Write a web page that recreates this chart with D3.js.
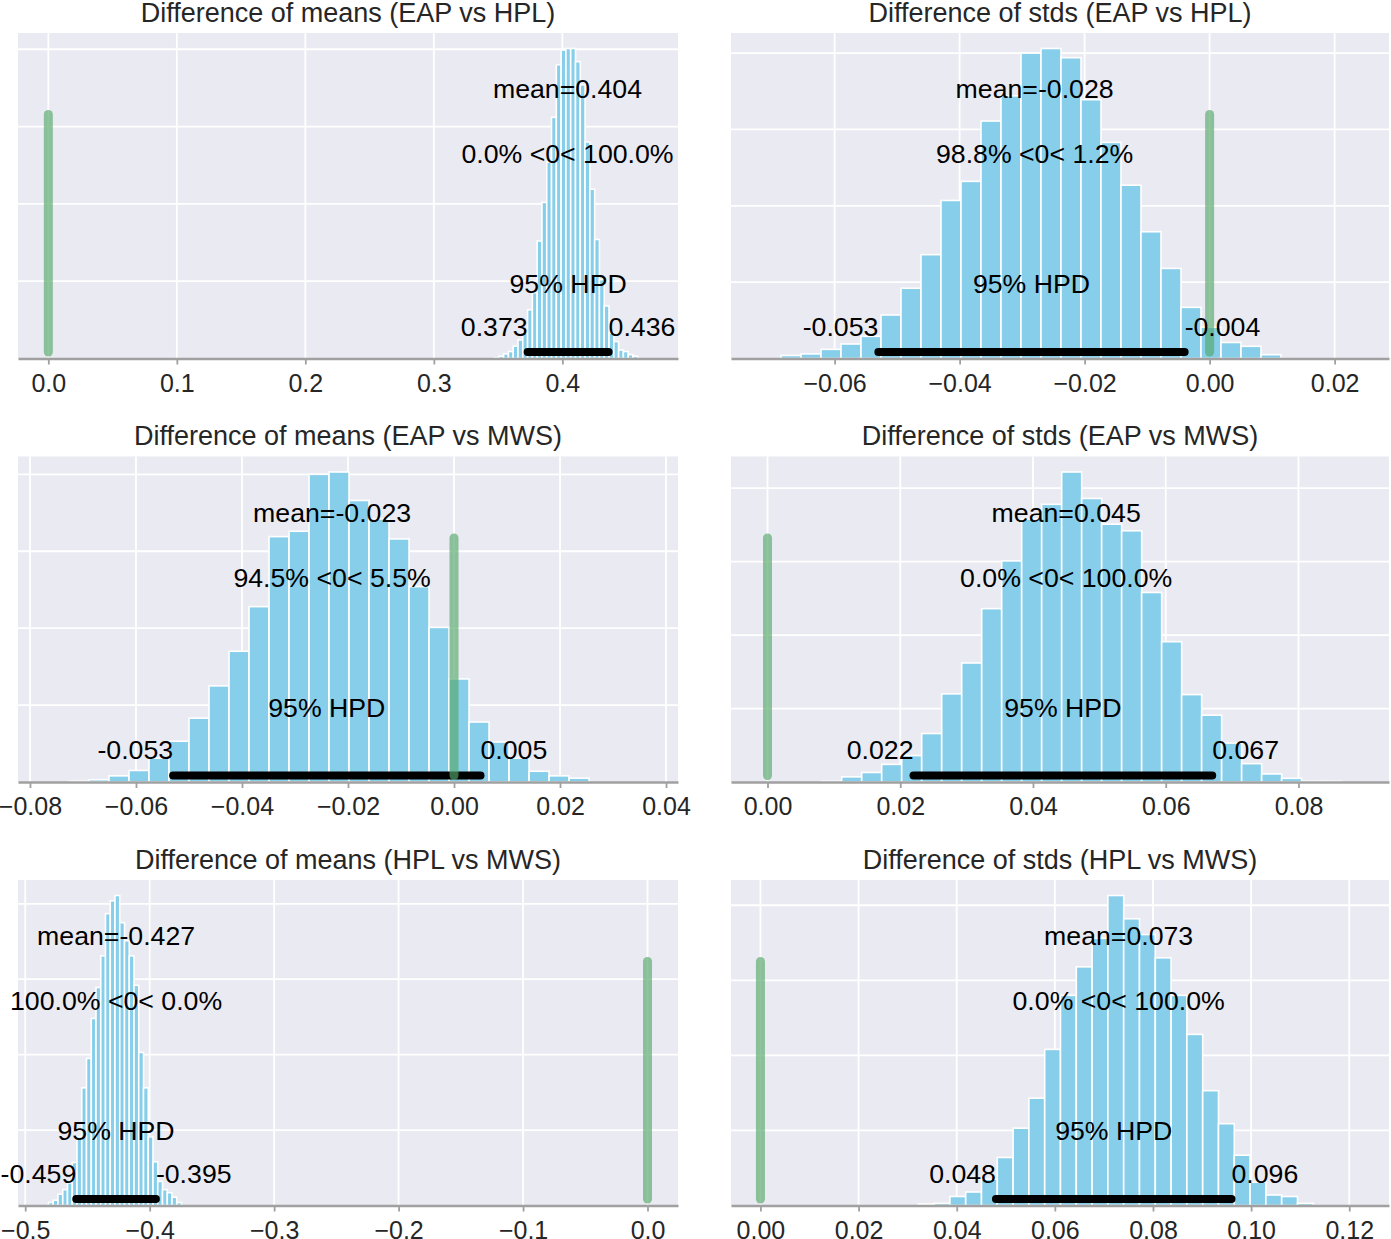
<!DOCTYPE html>
<html><head><meta charset="utf-8">
<script src="https://cdn.jsdelivr.net/npm/d3@7"></script>
<style>
body{margin:0;background:#fff}
svg text{font-family:"Liberation Sans",Arial,Helvetica,sans-serif}
</style>
</head><body>
<svg id="chart" width="1391" height="1239"></svg>
<script>
// ---------------- data ----------------
const titles = [
  "Difference of means (EAP vs HPL)", "Difference of stds (EAP vs HPL)",
  "Difference of means (EAP vs MWS)", "Difference of stds (EAP vs MWS)",
  "Difference of means (HPL vs MWS)", "Difference of stds (HPL vs MWS)"
];
const means = [0.404, -0.028, -0.023, 0.045, -0.427, 0.073];
const meanLabels = ["mean=0.404", "mean=-0.028", "mean=-0.023", "mean=0.045", "mean=-0.427", "mean=0.073"];
const refVal = 0;
const refLabels = ["0.0% <0< 100.0%", "98.8% <0< 1.2%", "94.5% <0< 5.5%", "0.0% <0< 100.0%", "100.0% <0< 0.0%", "0.0% <0< 100.0%"];
const hpdLow = [0.373, -0.053, -0.053, 0.022, -0.459, 0.048];
const hpdHigh = [0.436, -0.004, 0.005, 0.067, -0.395, 0.096];
const hpdLowLabels = ["0.373", "-0.053", "-0.053", "0.022", "-0.459", "0.048"];
const hpdHighLabels = ["0.436", "-0.004", "0.005", "0.067", "-0.395", "0.096"];

// histogram bins: first edge, bin width, counts
const binStart = [0.34685, -0.06858, -0.07264, 0.008166, -0.4813, 0.03217];
const binWidth = [0.003728, 0.0032, 0.003774, 0.003013, 0.003817, 0.00322];
const counts1 = [1,3,6,9,16,24,33,63,85,152,202,254,312,380,399,401,401,384,354,280,219,154,102,68,33,22,11,9,5,3];
const counts2 = [4,6,12,19,29,57,92,136,207,232,311,344,400,406,394,339,283,227,166,118,67,41,21,16,5];
const counts3 = [1,3,8,15,31,53,83,125,170,228,319,326,400,403,366,342,316,254,201,134,78,52,31,14,8,5];
const counts4 = [1,7,13,24,36,66,120,162,236,301,358,378,422,386,351,342,258,191,119,91,53,25,11,5,1,1];
const counts5 = [4,7,15,21,30,57,91,156,195,248,289,331,387,404,411,375,351,331,292,203,156,91,58,32,21,17,11,4];
const counts6 = [2,3,12,18,35,64,103,143,208,280,318,356,413,382,361,330,280,228,153,109,67,31,14,12,3];
const allCounts = [counts1, counts2, counts3, counts4, counts5, counts6];

// x axis limits and ticks
const xDomains = [[-0.0236, 0.4900], [-0.07658, 0.0287], [-0.08226, 0.04226], [-0.0055, 0.09364], [-0.5058, 0.0245], [-0.006, 0.1281]];
const xTicks = [
  [0, 0.1, 0.2, 0.3, 0.4],
  [-0.06, -0.04, -0.02, 0, 0.02],
  [-0.08, -0.06, -0.04, -0.02, 0, 0.02, 0.04],
  [0, 0.02, 0.04, 0.06, 0.08],
  [-0.5, -0.4, -0.3, -0.2, -0.1, 0],
  [0, 0.02, 0.04, 0.06, 0.08, 0.10, 0.12]
];
const tickFormats = [".1f", ".2f", ".2f", ".2f", ".1f", ".2f"];

// ---------------- layout ----------------
const colX = [[18, 678], [731, 1389]];
const rowTop = [33, 456.5, 880];
const axH = 325.5;

const svg = d3.select("#chart");

for (let p = 0; p < 6; p++) {
  const col = p % 2, row = Math.floor(p / 2);
  const [x0, x1] = colX[col];
  const top = rowTop[row], bottom = top + axH;
  const counts = allCounts[p];
  const x = d3.scaleLinear().domain(xDomains[p]).range([x0, x1]);
  const yMax = d3.max(counts) * 1.05;
  const y = d3.scaleLinear().domain([0, yMax]).range([bottom, top]);
  const yf = f => y(f * yMax);

  const g = svg.append("g");
  g.append("rect").attr("x", x0).attr("y", top).attr("width", x1 - x0).attr("height", axH).attr("fill", "#EAEAF2");

  // grid
  g.selectAll(".vg").data(xTicks[p]).join("line")
    .attr("x1", d => x(d)).attr("x2", d => x(d)).attr("y1", top).attr("y2", bottom)
    .attr("stroke", "#fff").attr("stroke-width", 1.8);
  g.selectAll(".hg").data(d3.range(100, yMax, 100)).join("line")
    .attr("x1", x0).attr("x2", x1).attr("y1", d => y(d)).attr("y2", d => y(d))
    .attr("stroke", "#fff").attr("stroke-width", 1.8);

  // histogram
  const bins = counts.map((c, i) => ({a: binStart[p] + i * binWidth[p], b: binStart[p] + (i + 1) * binWidth[p], c}));
  g.selectAll(".bar").data(bins).join("rect")
    .attr("x", d => x(d.a)).attr("width", d => x(d.b) - x(d.a))
    .attr("y", d => y(d.c)).attr("height", d => y(0) - y(d.c))
    .attr("fill", "#87CEEB").attr("stroke", "#fff").attr("stroke-width", 1.6);

  // x axis
  const ax = g.append("g").attr("transform", `translate(0,${bottom})`)
    .call(d3.axisBottom(x).tickValues(xTicks[p]).tickFormat(d3.format(tickFormats[p])).tickSize(6).tickSizeOuter(0).tickPadding(9.5));
  ax.select(".domain").attr("stroke", "#A0A0A0").attr("stroke-width", 2.4);
  ax.selectAll(".tick line").attr("stroke", "#A0A0A0").attr("stroke-width", 1.8);
  ax.selectAll(".tick text").attr("font-size", 25).attr("fill", "#262626")
    .attr("font-family", '"Liberation Sans",Arial,sans-serif');

  // HPD line
  g.append("line").attr("x1", x(hpdLow[p])).attr("x2", x(hpdHigh[p]))
    .attr("y1", yf(0.02)).attr("y2", yf(0.02))
    .attr("stroke", "#000").attr("stroke-width", 8).attr("stroke-linecap", "round");

  // reference line
  g.append("line").attr("x1", x(refVal)).attr("x2", x(refVal))
    .attr("y1", yf(0.02)).attr("y2", yf(0.75))
    .attr("stroke", "#55A868").attr("stroke-opacity", 0.65).attr("stroke-width", 9).attr("stroke-linecap", "round");

  const txt = (xv, f, s, anchor) => g.append("text").attr("x", x(xv)).attr("y", yf(f))
    .attr("text-anchor", anchor).attr("font-size", 26.7).attr("fill", "#000").text(s);
  txt(means[p], 0.8, meanLabels[p], "middle");
  txt(means[p], 0.6, refLabels[p], "middle");
  txt((hpdLow[p] + hpdHigh[p]) / 2, 0.2, "95% HPD", "middle");
  txt(hpdLow[p], 0.07, hpdLowLabels[p], "end");
  txt(hpdHigh[p], 0.07, hpdHighLabels[p], "start");

  // title
  svg.append("text").attr("x", (x0 + x1) / 2).attr("y", top - 11.5)
    .attr("text-anchor", "middle").attr("font-size", 27).attr("fill", "#262626").text(titles[p]);
}
</script>
</body></html>
